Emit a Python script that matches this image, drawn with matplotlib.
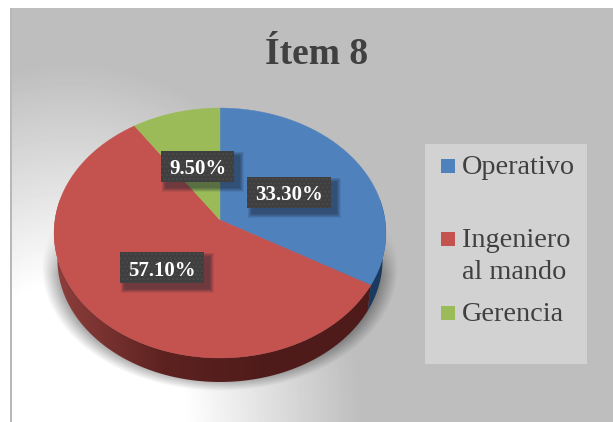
import numpy as np
import matplotlib
matplotlib.use("Agg")
import matplotlib.pyplot as plt
from matplotlib.patches import Polygon, Rectangle
from matplotlib.colors import LinearSegmentedColormap

title = "Ítem 8"
categories = ["Operativo", "Ingeniero\nal mando", "Gerencia"]
values = [33.3, 57.1, 9.5]
value_labels = ["33.30%", "57.10%", "9.50%"]
colors = ["#4f81bd", "#c4524f", "#9bbb59"]

W, H = 613, 422
plt.rcParams["font.family"] = ["Liberation Serif", "DejaVu Serif"]
fig = plt.figure(figsize=(W / 100, H / 100), dpi=100)
ax = fig.add_axes([0, 0, 1, 1])
ax.set_xlim(0, W)
ax.set_ylim(H, 0)
ax.axis("off")

# ---- background with radial glow and soft pie shadow
yy, xx = np.mgrid[0:H, 0:W] + 0.5
d = np.hypot((xx - 70) / 290, (yy - 430) / 365)
t = np.clip((d - 0.4) / 0.6, 0, 1)
bg = 1.0 + (0.745 - 1.0) * t
sd = np.hypot((xx - 220) / 178, (yy - 268) / 123)
shadow = np.clip((1.0 - sd) / 0.12, 0, 1) * 0.42 * np.clip((yy - 225) / 50, 0, 1)
bg = bg * (1 - shadow)
bg[yy < 8] = 1.0
bg[xx < 10] = 1.0
bg[(xx >= 10) & (xx < 12) & (yy >= 8)] = 0.72
ax.imshow(bg, cmap="gray", vmin=0, vmax=1, extent=(0, W, H, 0), aspect="auto",
          interpolation="bilinear", zorder=0)
ax.set_xlim(0, W)
ax.set_ylim(H, 0)

# ---- perspective pie
CX, CY, R, S, A = 220.0, 220.0, 165.0, 123.6, 0.104


def rim(theta):
    """Map clockwise-from-top angle (radians) to picture coordinates."""
    u, v = np.sin(theta), -np.cos(theta)
    w = 1 - A * v
    return CX + R * u / w, CY + S * v / w


def under(theta):
    x, y = rim(theta)
    return CX + 0.98 * (x - CX), CY + 0.98 * (y - CY) + 26.8


fractions = np.array(values) / np.sum(values)
edges = np.concatenate([[0], np.cumsum(fractions)]) * 2 * np.pi

# side wall: one outline per visible slice, shaded with a horizontal gradient
side_maps = [
    LinearSegmentedColormap.from_list("s0", ["#1b3a60", "#1b3a60"]),
    LinearSegmentedColormap.from_list("s1", ["#8e3f3c", "#5c2220", "#4e1b1a", "#4e1b1a"]),
]
LOW, HIGH = np.radians(60), np.radians(300)
for i, cmap in enumerate(side_maps):
    lo, hi = max(edges[i], LOW), min(edges[i + 1], HIGH)
    ths = np.linspace(lo, hi, 200)
    xt, yt = rim(ths)
    xb, yb = under(ths)
    pts = list(zip(xt, yt)) + list(zip(xb[::-1], yb[::-1]))
    poly = Polygon(pts, closed=True, facecolor="none", edgecolor="none", zorder=2)
    ax.add_patch(poly)
    im = ax.imshow(np.linspace(0, 1, 256)[None, :], cmap=cmap, vmin=0, vmax=1,
                   extent=(54, 386, 395, 200), aspect="auto", zorder=2)
    im.set_clip_path(poly)
ax.set_xlim(0, W)
ax.set_ylim(H, 0)

# top face
for a0, a1, c in zip(edges[:-1], edges[1:], colors):
    ths = np.linspace(a0, a1, 200)
    xs, ys = rim(ths)
    pts = [(CX, CY)] + list(zip(xs, ys))
    ax.add_patch(Polygon(pts, closed=True, facecolor=c, edgecolor=c, linewidth=0.3, zorder=3))

# ---- data labels
label_boxes = [(247, 177, 84, 31), (120, 252, 84, 31), (161, 151, 73, 31)]
for text, (x, y, w, h) in zip(value_labels, label_boxes):
    for k in range(9, 0, -1):
        ax.add_patch(Rectangle((x + 5 - k / 2, y + 5 - k / 2), w + k, h + k,
                               facecolor="#1a2430", edgecolor="none", alpha=0.07, zorder=4))
    ax.add_patch(Rectangle((x, y), w, h, facecolor="#3f3f3f", edgecolor="none", zorder=5))
    ax.add_patch(Rectangle((x, y), w, h, facecolor="none", edgecolor="#4a4a4a",
                           hatch="....", linewidth=0, zorder=5))
    ax.text(x + w / 2, y + h / 2 + 0.5, text, color="white", fontsize=15, fontweight="bold",
            ha="center", va="center_baseline", zorder=6)

# ---- legend
ax.add_patch(Rectangle((425, 144), 161.5, 220, facecolor="#d2d2d2", edgecolor="none", zorder=1))
swatch_y = [159, 232, 306]
baselines = [174, 247, 321]
for name, c, sy, by in zip(categories, colors, swatch_y, baselines):
    ax.add_patch(Rectangle((441, sy), 14, 14, facecolor=c, edgecolor="none", zorder=2))
    for j, line in enumerate(name.split("\n")):
        ax.text(462, by + j * 32, line, color="#404040", fontsize=20.3, ha="left",
                va="baseline", zorder=2)

# ---- title
ax.text(316.5, 64, title, color="#404040", fontsize=27, fontweight="bold",
        ha="center", va="baseline", zorder=2)

fig.savefig("out.png", dpi=100)
